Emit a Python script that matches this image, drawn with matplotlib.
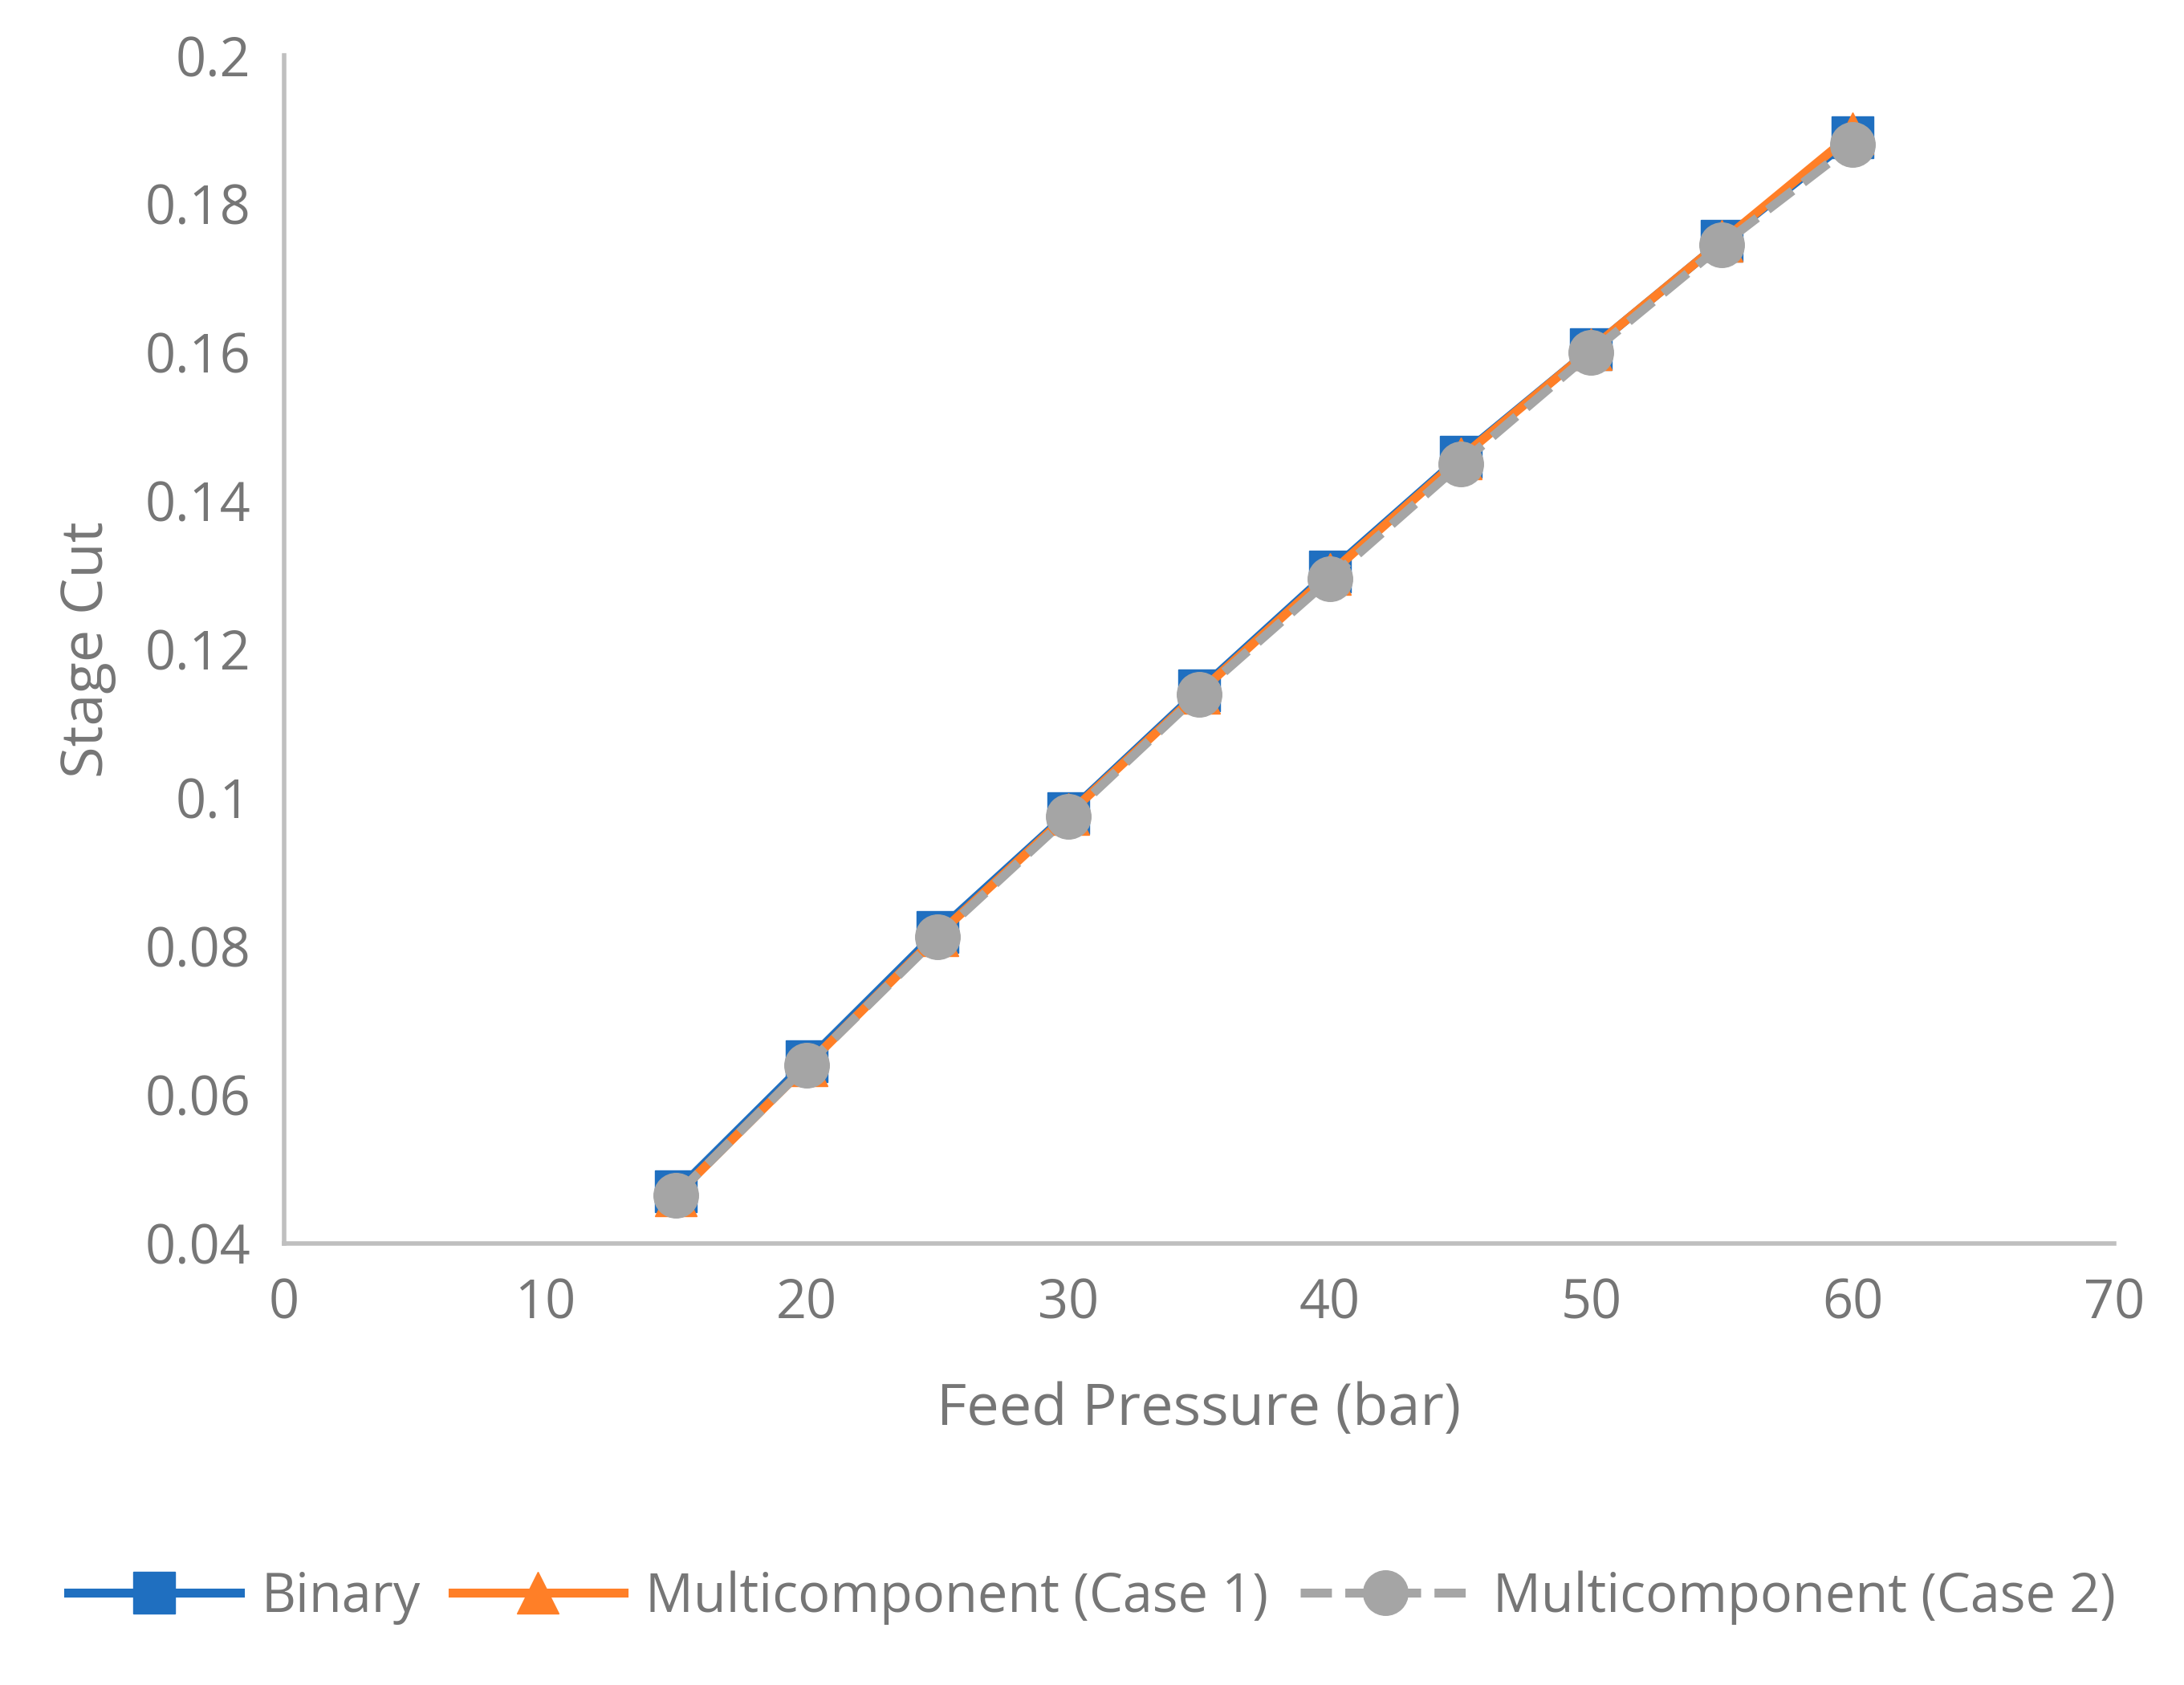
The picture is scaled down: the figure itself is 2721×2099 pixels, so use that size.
import matplotlib.pyplot as plt

plt.rcParams['font.family'] = ['Open Sans', 'DejaVu Sans']

pressure = [15, 20, 25, 30, 35, 40, 45, 50, 55, 60]
binary = [0.047, 0.0645, 0.082, 0.098, 0.1145, 0.1305, 0.146, 0.1605, 0.175, 0.189]
case1 = [0.0465, 0.064, 0.0815, 0.0978, 0.1142, 0.1302, 0.1458, 0.1605, 0.175, 0.1895]
case2 = [0.0465, 0.064, 0.0813, 0.0975, 0.114, 0.1295, 0.145, 0.16, 0.1745, 0.188]

grey = '#767676'

fig = plt.figure(figsize=(27.21, 20.99), dpi=100)
ax = fig.add_axes([0.130, 0.262, 0.838, 0.705])

ax.plot(pressure, binary, color='#1f6fc0', lw=8, marker='s', ms=38,
        mfc='#1f6fc0', mec='#1f6fc0', label='Binary')
ax.plot(pressure, case1, color='#ff7f27', lw=8, marker='^', ms=38,
        mfc='#ff7f27', mec='#ff7f27', label='Multicomponent (Case 1)')
ax.plot(pressure, case2, color='#a5a5a5', lw=8, ls=(0, (3.5, 1.5)), marker='o', ms=40,
        mfc='#a5a5a5', mec='#a5a5a5', label='Multicomponent (Case 2)')

ax.set_xlim(0, 70)
ax.set_ylim(0.04, 0.2)
ax.set_xticks(range(0, 71, 10))
ax.set_yticks([0.04, 0.06, 0.08, 0.1, 0.12, 0.14, 0.16, 0.18, 0.2])
ax.set_yticklabels(['0.04', '0.06', '0.08', '0.1', '0.12', '0.14', '0.16', '0.18', '0.2'])
ax.tick_params(length=0, labelsize=48, labelcolor=grey, pad=30)

for s in ['top', 'right']:
    ax.spines[s].set_visible(False)
for s in ['left', 'bottom']:
    ax.spines[s].set_color('#bfbfbf')
    ax.spines[s].set_linewidth(4)

ax.set_xlabel('Feed Pressure (bar)', fontsize=52, color=grey, labelpad=45)
ax.set_ylabel('Stage Cut', fontsize=52, color=grey, labelpad=25)

fig.legend(loc='center', bbox_to_anchor=(0.5, 0.052), ncol=3, frameon=False,
           fontsize=48, labelcolor=grey, handlelength=3.2, columnspacing=0.6,
           handletextpad=0.4)

fig.savefig('out.png', dpi=100)
